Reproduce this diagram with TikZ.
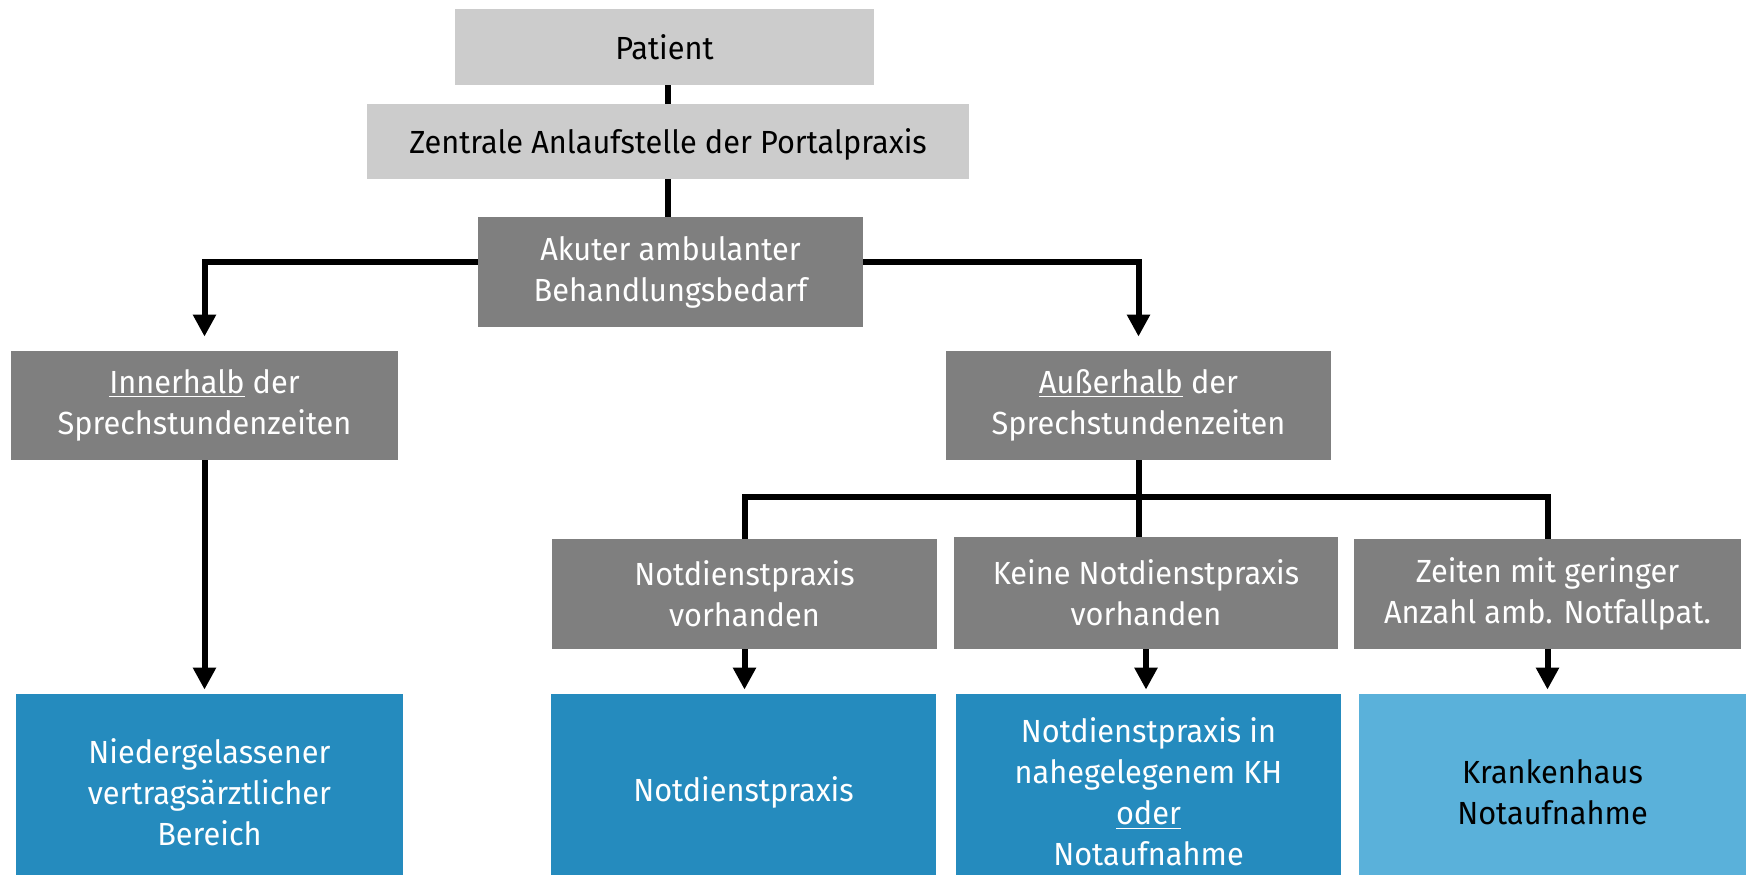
\documentclass[tikz,border=0pt]{standalone}
\usepackage{fontspec}
\setmainfont[FakeStretch=0.96]{Fira Sans}
\usetikzlibrary{arrows.meta}
\definecolor{lgrey}{HTML}{CCCCCC}
\definecolor{dgrey}{HTML}{7F7F7F}
\definecolor{mblue}{HTML}{258BBE}
\definecolor{lblue}{HTML}{5AB1DA}
\tikzset{
  box/.style={rectangle, inner sep=0pt, align=center, font=\fontsize{16}{20.5}\selectfont},
  light/.style={box, fill=lgrey, text=black, text depth=0pt},
  dark/.style={box, fill=dgrey, text=white},
  bluebox/.style={box, fill=mblue, text=white},
  lbluebox/.style={box, fill=lblue, text=black},
  conn/.style={line width=3pt, draw=black},
  arr/.style={conn, -{Triangle[width=11pt,length=11pt]}},
}
\begin{document}
\begin{tikzpicture}[x=0.5pt, y=-0.5pt]
\clip (0,0) rectangle (1746,874);
\fill[white] (0,0) rectangle (1746,874);
% top
\node[light, minimum width=209.5pt, minimum height=38pt] (patient) at (664.5,47) {Patient};
\node[light, minimum width=301pt, minimum height=37.5pt] (zentrale) at (668,141.5) {Zentrale Anlaufstelle der Portalpraxis};
\node[dark, minimum width=192.5pt, minimum height=55pt] (akuter) at (670.5,272) {Akuter ambulanter\\Behandlungsbedarf};
% level 2
\node[dark, minimum width=193.5pt, minimum height=54.5pt] (inner) at (204.5,405.5) {\underline{Innerhalb} der\\Sprechstundenzeiten};
\node[dark, minimum width=192.5pt, minimum height=54.5pt] (ausser) at (1138.5,405.5) {\underline{Außerhalb} der\\Sprechstundenzeiten};
% level 3
\node[dark, minimum width=192.5pt, minimum height=55pt] (nv) at (744.5,594) {Notdienstpraxis\\vorhanden};
\node[dark, minimum width=192pt, minimum height=56pt] (keine) at (1146,593) {Keine Notdienstpraxis\\vorhanden};
\node[dark, minimum width=193.5pt, minimum height=55pt] (zeiten) at (1547.5,594) {Zeiten mit geringer\\Anzahl amb. Notfallpat.};
% bottom
\node[bluebox, minimum width=193.5pt, minimum height=98pt] (b1) at (209.5,792) {Niedergelassener\\vertragsärztlicher\\Bereich};
\node[bluebox, minimum width=192.5pt, minimum height=98pt] (b2) at (743.5,792) {Notdienstpraxis};
\node[bluebox, minimum width=192.5pt, minimum height=98pt] (b3) at (1148.5,792) {Notdienstpraxis in\\nahegelegenem KH\\\underline{oder}\\Notaufnahme};
\node[lbluebox, minimum width=193.5pt, minimum height=98pt] (b4) at (1552.5,792) {Krankenhaus\\Notaufnahme};
% connectors
\draw[conn] (patient.south -| zentrale.north) -- (zentrale.north);
\draw[conn] (zentrale.south) -- (zentrale.south |- akuter.north);
\draw[arr, shorten >=7pt] ([yshift=5pt]akuter.west) -| (inner.north);
\draw[arr, shorten >=7pt] ([yshift=5pt]akuter.east) -| (ausser.north);
\draw[arr, shorten >=2pt] (inner.south) -- (inner.south |- b1.north);
\coordinate (bar) at (1141,497);
\draw[conn] (ausser.south) -- (ausser.south |- keine.north);
\draw[conn] (nv.north) |- (bar) -| (zeiten.north);
\draw[arr, shorten >=2pt] (nv.south) -- (nv.south |- b2.north);
\draw[arr, shorten >=2pt] (keine.south) -- (keine.south |- b3.north);
\draw[arr, shorten >=2pt] (zeiten.south) -- (zeiten.south |- b4.north);
\end{tikzpicture}
\end{document}
